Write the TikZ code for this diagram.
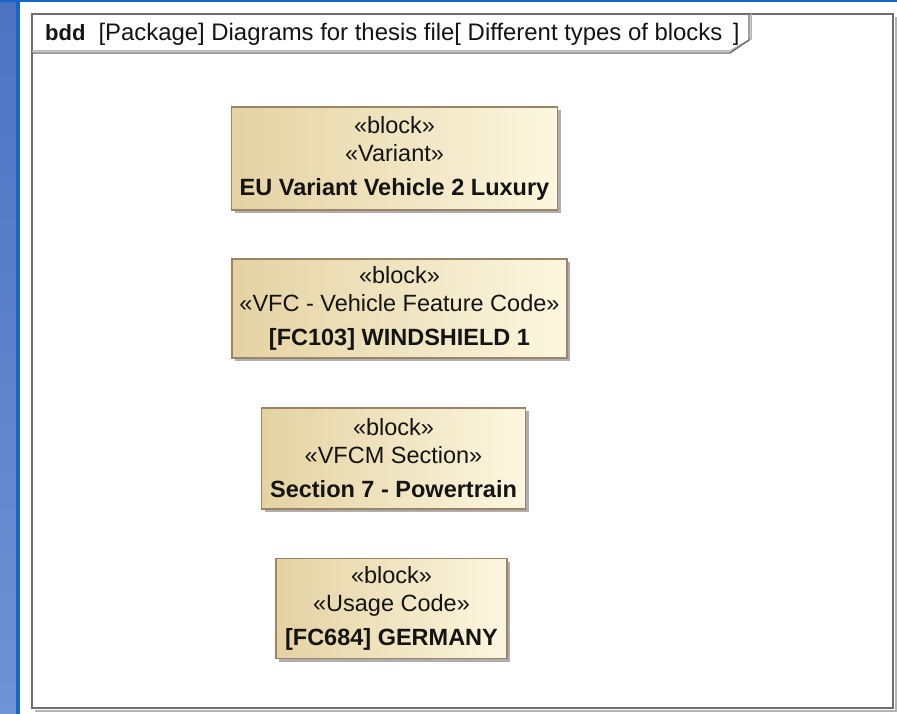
\documentclass[tikz,border=0pt]{standalone}
\usepackage{fontspec}
\setmainfont{Liberation Sans}
\usetikzlibrary{shadows}
\definecolor{winblue}{HTML}{4C72C2}
\definecolor{winblueb}{HTML}{6F93D4}
\definecolor{edgeblue}{HTML}{1666CC}
\definecolor{framegray}{HTML}{6E6E6E}
\definecolor{frameshadow}{HTML}{B4B4B4}
\definecolor{blocktan}{HTML}{E4D2A2}
\definecolor{blockcream}{HTML}{FCF7DF}
\definecolor{blockedge}{HTML}{9E8466}
\definecolor{inktext}{HTML}{141414}
\tikzset{
  blockbox/.style={draw=blockedge, line width=1.6pt, left color=blocktan, right color=blockcream,
    align=center, inner sep=0pt, text=inktext,
    font=\fontsize{23.5}{28}\selectfont,
    drop shadow={shadow xshift=3pt, shadow yshift=-3pt, fill=black!45, opacity=.7}},
  headtext/.style={anchor=west, inner sep=0pt, text=inktext, font=\fontsize{23.9}{26}\selectfont},
}
\newcommand{\blk}[3]{\guillemotleft#1\guillemotright\\\guillemotleft#2\guillemotright\\[6pt]\textbf{\fontsize{23.5}{28}\selectfont #3}}
\begin{document}
\begin{tikzpicture}[x=1pt, y=-1pt]
  \useasboundingbox (0,0) rectangle (897,714);
  \fill[white] (0,0) rectangle (897,714);
  % desktop edge on the left and top
  \shade[top color=winblue, bottom color=winblueb] (0,0) rectangle (16,714);
  \fill[edgeblue] (16,0) rectangle (20,714);
  \fill[edgeblue] (0,0) rectangle (897,2.5);
  % diagram frame with shadow
  \draw[frameshadow, line width=2pt] (35,711) -- (896,711) -- (896,17);
  \draw[framegray, line width=1.6pt] (32,14) rectangle (893,708);
  \coordinate (tabA) at (32,53);
  \coordinate (tabB) at (730,53);
  \coordinate (tabC) at (749,40);
  \coordinate (tabD) at (749,14);
  \draw[frameshadow, line width=1.5pt] ([yshift=2pt]tabA) -- ([yshift=2pt]tabB) -- ([xshift=2pt,yshift=1pt]tabC) -- ([xshift=2pt]tabD);
  \draw[framegray, line width=1.4pt] (tabA) -- (tabB) -- (tabC) -- (tabD);
  \node[headtext] (title) at (45,34) {\textbf{\fontsize{22}{26}\selectfont bdd}\hspace{13pt}[Package] Diagrams for thesis file[ Different types of blocks \hspace{4pt}]};
  % blocks
  \node[blockbox, minimum width=326pt, minimum height=103pt] (b1) at (394.5,158.5)
    {\blk{block}{Variant}{EU Variant Vehicle 2 Luxury}};
  \node[blockbox, minimum width=335pt, minimum height=99pt] (b2) at (399.5,308.5)
    {\blk{block}{VFC - Vehicle Feature Code}{[FC103] WINDSHIELD 1}};
  \node[blockbox, minimum width=264pt, minimum height=101pt] (b3) at (393.5,458.5)
    {\blk{block}{VFCM Section}{Section 7 - Powertrain}};
  \node[blockbox, minimum width=231pt, minimum height=100pt] (b4) at (391.5,608.5)
    {\blk{block}{Usage Code}{[FC684] GERMANY}};
\end{tikzpicture}
\end{document}
